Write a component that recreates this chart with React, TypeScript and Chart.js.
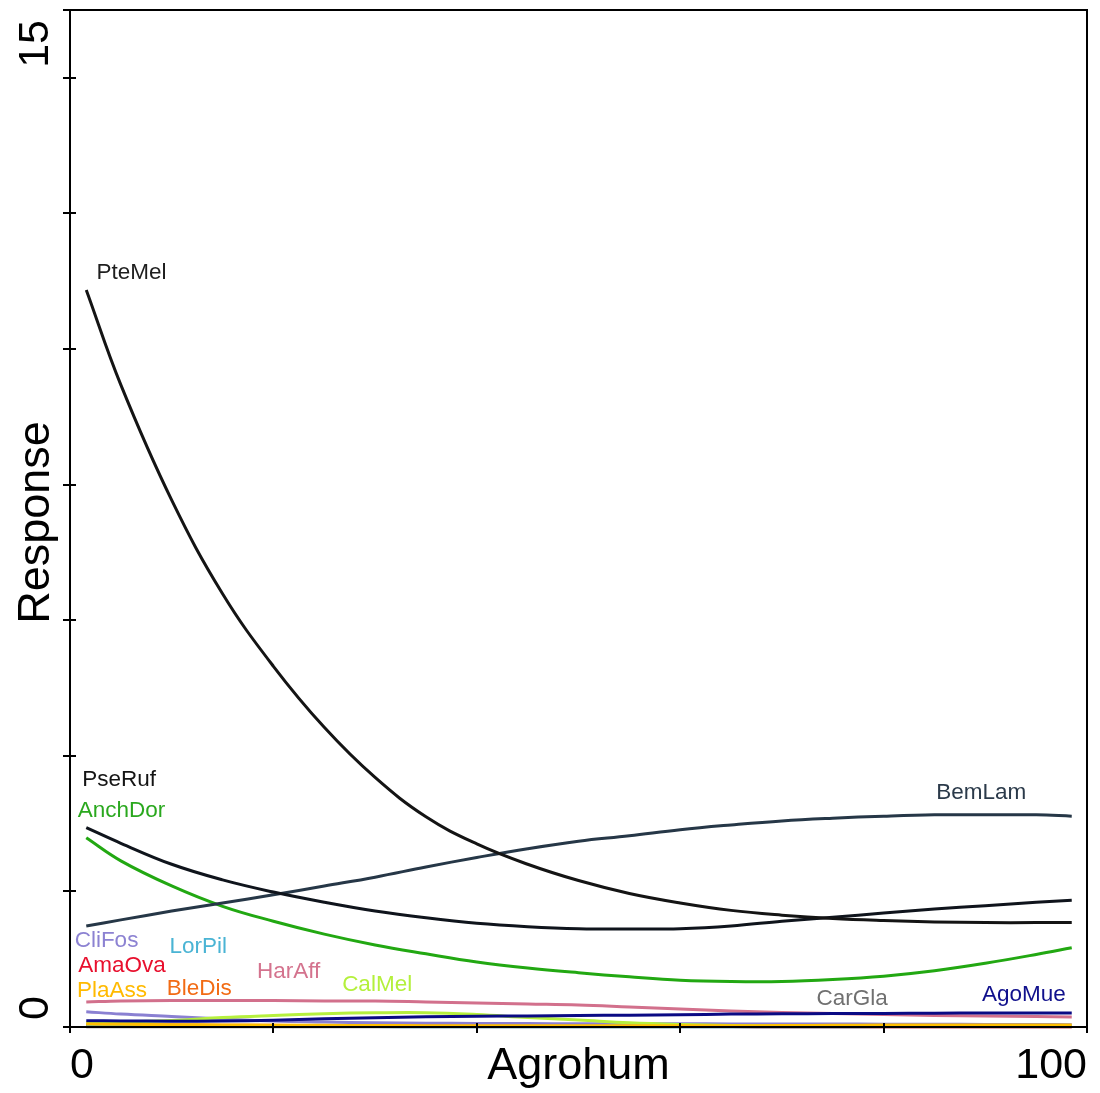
import { useEffect, useRef } from 'react';
import { Chart, registerables } from 'chart.js';

Chart.register(...registerables);

// x positions (Agrohum) at which responses were read
const agrohum = [1.6, 5, 10, 15, 20, 25, 30, 35, 40, 45, 50, 55, 60, 65, 70, 75, 80, 85, 90, 95, 98.5];

const pteMel = [10.87, 9.47, 7.77, 6.39, 5.32, 4.42, 3.68, 3.1, 2.7, 2.4, 2.16, 1.97, 1.83, 1.72, 1.65, 1.6, 1.57, 1.55, 1.54, 1.54, 1.54];
const pseRuf = [2.94, 2.71, 2.4, 2.17, 1.99, 1.84, 1.71, 1.61, 1.53, 1.48, 1.45, 1.445, 1.45, 1.49, 1.56, 1.62, 1.68, 1.74, 1.79, 1.84, 1.87];
const bemLam = [1.49, 1.58, 1.71, 1.83, 1.95, 2.08, 2.21, 2.36, 2.5, 2.63, 2.74, 2.82, 2.91, 2.98, 3.04, 3.08, 3.11, 3.13, 3.13, 3.13, 3.11];
const anchDor = [2.79, 2.45, 2.08, 1.78, 1.56, 1.37, 1.21, 1.08, 0.96, 0.87, 0.8, 0.74, 0.69, 0.67, 0.67, 0.7, 0.75, 0.83, 0.94, 1.07, 1.17];
const harAff = [0.369, 0.383, 0.391, 0.391, 0.391, 0.383, 0.383, 0.369, 0.354, 0.339, 0.324, 0.295, 0.265, 0.236, 0.214, 0.199, 0.184, 0.17, 0.162, 0.155, 0.147];
const cliFos = [0.226, 0.19, 0.155, 0.118, 0.088, 0.074, 0.062, 0.056, 0.052, 0.05, 0.049, 0.048, 0.047, 0.046, 0.045, 0.044, 0.042, 0.04, 0.038, 0.036, 0.035];
const calMel = [0.06, 0.074, 0.096, 0.14, 0.17, 0.195, 0.209, 0.211, 0.184, 0.14, 0.103, 0.062, 0.037, 0.022, 0.015, 0.012, 0.01, 0.01, 0.01, 0.01, 0.01];
const agoMue = [0.093, 0.09, 0.085, 0.088, 0.1, 0.12, 0.138, 0.15, 0.158, 0.163, 0.168, 0.175, 0.18, 0.19, 0.195, 0.198, 0.2, 0.204, 0.206, 0.206, 0.206];
const plaAss = [0.045, 0.04, 0.035, 0.03, 0.027, 0.024, 0.022, 0.02, 0.02, 0.02, 0.02, 0.02, 0.02, 0.02, 0.021, 0.025, 0.028, 0.03, 0.03, 0.03, 0.03];
const lorPil = [0.012, 0.011, 0.01, 0.009, 0.008, 0.007, 0.006, 0.005, 0.005, 0.005, 0.005, 0.005, 0.005, 0.005, 0.005, 0.005, 0.006, 0.007, 0.008, 0.009, 0.01];
const amaOva = [0.03, 0.028, 0.025, 0.022, 0.02, 0.018, 0.016, 0.014, 0.012, 0.01, 0.009, 0.008, 0.007, 0.006, 0.005, 0.005, 0.005, 0.005, 0.005, 0.005, 0.005];
const bleDis = [0.035, 0.032, 0.03, 0.027, 0.024, 0.022, 0.02, 0.018, 0.016, 0.014, 0.012, 0.01, 0.009, 0.008, 0.007, 0.006, 0.006, 0.006, 0.006, 0.006, 0.006];
const carGla = [0.004, 0.004, 0.004, 0.004, 0.004, 0.004, 0.004, 0.004, 0.004, 0.004, 0.004, 0.004, 0.004, 0.004, 0.004, 0.004, 0.004, 0.004, 0.004, 0.004, 0.004];

// drawing order: first = on top
const speciesNames = ['PteMel', 'PseRuf', 'BemLam', 'AnchDor', 'PlaAss', 'LorPil', 'AgoMue', 'CalMel', 'CliFos', 'HarAff', 'BleDis', 'AmaOva', 'CarGla'];
const speciesValues = [pteMel, pseRuf, bemLam, anchDor, plaAss, lorPil, agoMue, calMel, cliFos, harAff, bleDis, amaOva, carGla];
const speciesColors = ['#141414', '#0f141c', '#263747', '#22a812', '#ffbe00', '#45b2d2', '#0a0a84', '#b6f03e', '#8a80d2', '#d2708c', '#f06614', '#e8102e', '#6f6f6f'];
const labelColors = ['#1e1e1e', '#141414', '#2b3a4a', '#2aa81e', '#ffba00', '#4ab4d4', '#10108c', '#b4f03c', '#8c82d2', '#d4738e', '#f26b14', '#e8102e', '#707070'];
// label anchor positions (data units)
const labelX = [6.05, 4.82, 89.6, 5.06, 4.13, 12.6, 93.8, 30.2, 3.59, 21.5, 12.7, 5.11, 76.9];
const labelY = [11.12, 3.64, 3.45, 3.19, 0.53, 1.18, 0.47, 0.62, 1.27, 0.81, 0.56, 0.91, 0.41];

const xTicks = [0, 20, 40, 60, 80, 100];
const yTicks = [0, 2, 4, 6, 8, 10, 12, 14, 15];
const xTickLabels = ['0', '100'];
const yTickLabels = ['0', '15'];
const xTitle = 'Agrohum';
const yTitle = 'Response';

const FONT = '"Liberation Sans", Arial, sans-serif';

const axesPlugin = {
  id: 'rAxes',
  afterDatasetsDraw(chart: any) {
    const ctx = chart.ctx as CanvasRenderingContext2D;
    const { left, right, top, bottom } = chart.chartArea;
    const xs = chart.scales.x;
    const ys = chart.scales.y;
    ctx.save();
    // species labels
    ctx.font = `22.5px ${FONT}`;
    ctx.textAlign = 'center';
    ctx.textBaseline = 'middle';
    speciesNames.forEach((n, i) => {
      ctx.fillStyle = labelColors[i];
      ctx.fillText(n, xs.getPixelForValue(labelX[i]), ys.getPixelForValue(labelY[i]));
    });
    // box
    ctx.strokeStyle = '#000';
    ctx.lineWidth = 2;
    ctx.strokeRect(left, top, right - left, bottom - top);
    // ticks
    ctx.beginPath();
    xTicks.forEach((t) => {
      const px = Math.round(xs.getPixelForValue(t));
      ctx.moveTo(px, bottom - 4);
      ctx.lineTo(px, bottom + 6);
    });
    yTicks.forEach((t) => {
      const py = Math.round(ys.getPixelForValue(t));
      ctx.moveTo(left - 7, py);
      ctx.lineTo(left + 6, py);
    });
    ctx.stroke();
    // tick labels
    ctx.fillStyle = '#000';
    ctx.font = `43px ${FONT}`;
    ctx.textBaseline = 'alphabetic';
    ctx.textAlign = 'left';
    ctx.fillText(xTickLabels[0], xs.getPixelForValue(0), 1078);
    ctx.textAlign = 'right';
    ctx.fillText(xTickLabels[1], xs.getPixelForValue(100), 1078);
    // y tick labels (rotated)
    ctx.save();
    ctx.translate(48, ys.getPixelForValue(0) - 7);
    ctx.rotate(-Math.PI / 2);
    ctx.textAlign = 'left';
    ctx.fillText(yTickLabels[0], 0, 0);
    ctx.restore();
    ctx.save();
    ctx.translate(48, ys.getPixelForValue(15) + 10);
    ctx.rotate(-Math.PI / 2);
    ctx.textAlign = 'right';
    ctx.fillText(yTickLabels[1], 0, 0);
    ctx.restore();
    // titles
    ctx.font = `45px ${FONT}`;
    ctx.textAlign = 'center';
    ctx.fillText(xTitle, (left + right) / 2, 1079);
    ctx.save();
    ctx.translate(49, (top + bottom) / 2 + 4);
    ctx.rotate(-Math.PI / 2);
    ctx.fillText(yTitle, 0, 0);
    ctx.restore();
    ctx.restore();
  },
};

export default function App() {
  const ref = useRef<HTMLCanvasElement | null>(null);
  useEffect(() => {
    if (!ref.current) return;
    const chart = new Chart(ref.current, {
      type: 'line',
      data: {
        datasets: speciesNames.map((n, i) => ({
          label: n,
          data: agrohum.map((x, j) => ({ x, y: speciesValues[i][j] })),
          borderColor: speciesColors[i],
          borderWidth: 3,
          pointRadius: 0,
          fill: false,
          tension: 0.4,
          clip: false as any,
        })),
      },
      options: {
        responsive: false,
        animation: false,
        devicePixelRatio: 1,
        layout: { padding: { left: 70, right: 13, top: 10, bottom: 66 } },
        plugins: { legend: { display: false }, tooltip: { enabled: false } },
        scales: {
          x: { type: 'linear', min: 0, max: 100, display: false },
          y: { type: 'linear', min: 0, max: 15, display: false },
        },
      },
      plugins: [axesPlugin],
    });
    return () => chart.destroy();
  }, []);
  return (
    <div style={{ position: 'absolute', left: 0, top: 0, width: 1100, height: 1093, background: '#fff' }}>
      <canvas ref={ref} width={1100} height={1093} style={{ display: 'block', width: 1100, height: 1093 }} />
    </div>
  );
}
